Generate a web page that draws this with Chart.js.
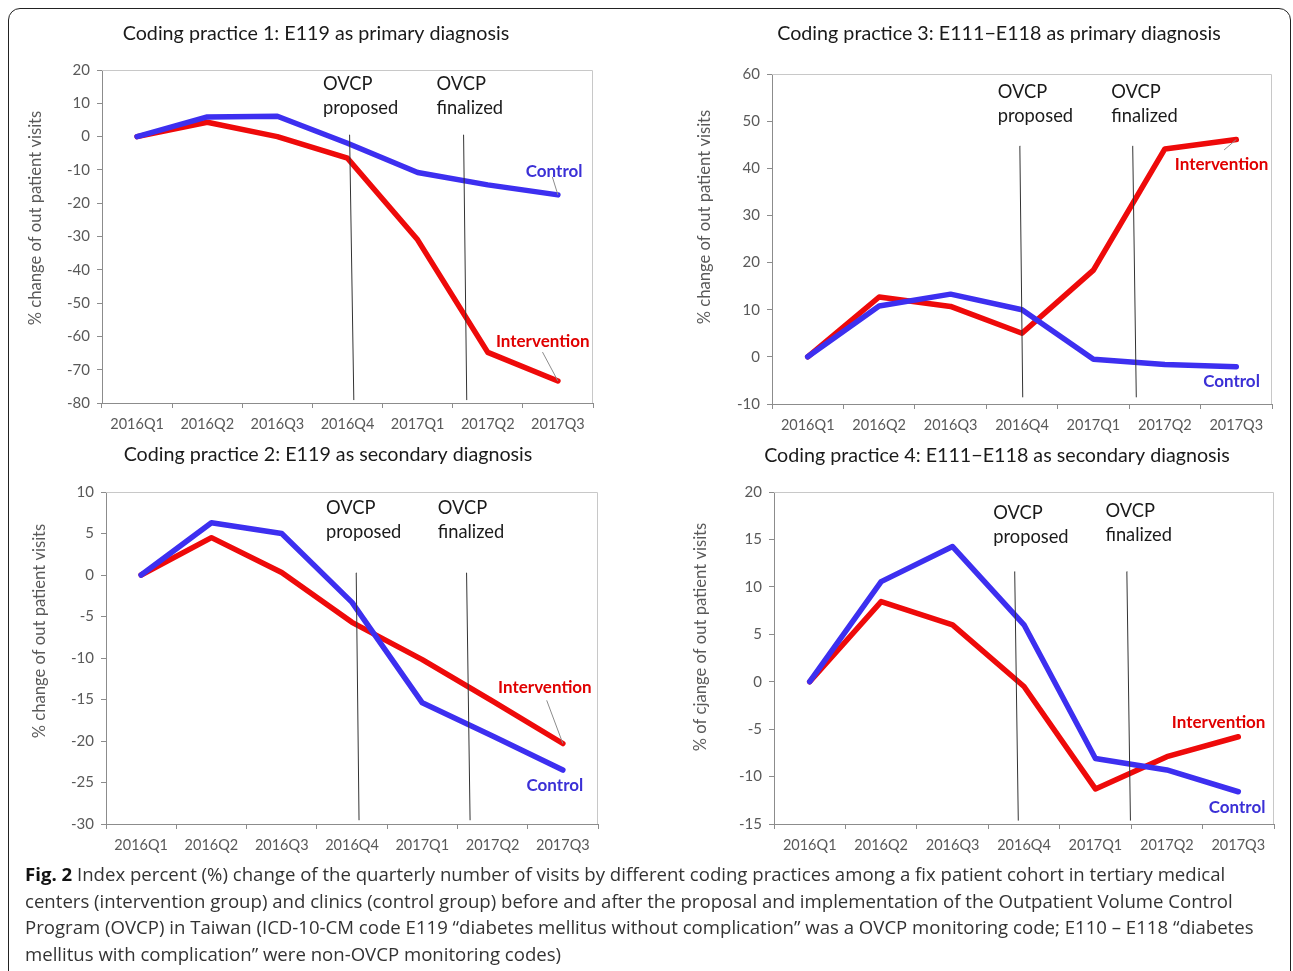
<!DOCTYPE html>
<html>
<head>
<meta charset="utf-8">
<script src="https://cdn.jsdelivr.net/npm/chart.js@4.4.1/dist/chart.umd.min.js"></script>
<style>
html, body { margin: 0; padding: 0; background: #fff; overflow: hidden; }
#fig { position: relative; width: 1293px; height: 971px; }
#frame { position: absolute; left: 8px; top: 8px; width: 1281px; height: 1000px; border: 1.6px solid #222; border-radius: 12px 12px 0 0; }
canvas.c { position: absolute; left: 0; top: 0; }
#cap { position: absolute; left: 25px; top: 861px; font-family: 'Open Sans', sans-serif; font-size: 18.6px; line-height: 26.7px; color: #333; white-space: nowrap; }
#cap b { color: #111; }
</style>
</head>
<body>
<div id="fig">
  <div id="frame"></div>
  <canvas class="c" id="cp1" width="1293" height="860"></canvas>
  <canvas class="c" id="cp2" width="1293" height="860"></canvas>
  <canvas class="c" id="cp3" width="1293" height="860"></canvas>
  <canvas class="c" id="cp4" width="1293" height="860"></canvas>
  <div id="cap">
    <b>Fig. 2</b> Index percent (%) change of the quarterly number of visits by different coding practices among a fix patient cohort in tertiary medical<br>
    centers (intervention group) and clinics (control group) before and after the proposal and implementation of the Outpatient Volume Control<br>
    Program (OVCP) in Taiwan (ICD-10-CM code E119 “diabetes mellitus without complication” was a OVCP monitoring code; E110 – E118 “diabetes<br>
    mellitus with complication” were non-OVCP monitoring codes)
  </div>
</div>
<script>
// quarters on the x axis
const quarters = ['2016Q1', '2016Q2', '2016Q3', '2016Q4', '2017Q1', '2017Q2', '2017Q3'];

// coding practice 1: E119 as primary diagnosis
const cp1Intervention = [0, 4.3, 0, -6.5, -31, -64.8, -73.4];
const cp1Control = [0, 5.9, 6.1, -2, -10.8, -14.5, -17.5];
// coding practice 2: E119 as secondary diagnosis
const cp2Intervention = [0, 4.5, 0.3, -5.7, -10.2, -15.2, -20.3];
const cp2Control = [0, 6.3, 5.0, -3.3, -15.4, -19.4, -23.5];
// coding practice 3: E111-E118 as primary diagnosis
const cp3Intervention = [0, 12.7, 10.7, 5.0, 18.4, 44.1, 46.1];
const cp3Control = [0, 10.8, 13.3, 10.0, -0.5, -1.6, -2.1];
// coding practice 4: E111-E118 as secondary diagnosis
const cp4Intervention = [0, 8.45, 6.0, -0.5, -11.3, -7.9, -5.8];
const cp4Control = [0, 10.55, 14.25, 6.0, -8.1, -9.3, -11.6];

// OVCP marker lines (x in quarter index, y in %)
const cp1Proposed = [{x: 3.03, y: 0.5}, {x: 3.09, y: -79}];
const cp1Finalized = [{x: 4.655, y: 0.5}, {x: 4.7, y: -79}];
const cp2Proposed = [{x: 3.06, y: 0.25}, {x: 3.1, y: -29.5}];
const cp2Finalized = [{x: 4.63, y: 0.25}, {x: 4.68, y: -29.5}];
const cp3Proposed = [{x: 2.97, y: 44.7}, {x: 3.01, y: -8.5}];
const cp3Finalized = [{x: 4.55, y: 44.7}, {x: 4.6, y: -8.5}];
const cp4Proposed = [{x: 2.87, y: 11.6}, {x: 2.92, y: -14.6}];
const cp4Finalized = [{x: 4.44, y: 11.6}, {x: 4.49, y: -14.6}];

const RED = '#ee0a0a';
const BLUE = '#3d2ff0';
const AXIS = '#8c8c8c';
const TICK = '#595959';
const W = 1293, H = 860, YW = 40, XH = 34;

Chart.defaults.font.family = 'Lato, "Open Sans", sans-serif';
Chart.defaults.elements.point.radius = 0;
Chart.defaults.elements.point.hoverRadius = 0;

function textPlugin(cfg) {
  return {
    id: 'figText',
    afterDatasetsDraw(chart) {
      const ctx = chart.ctx, xs = chart.scales.x2, ys = chart.scales.y, a = chart.chartArea;
      ctx.save();
      // light frame on top and right of the plot
      ctx.strokeStyle = '#c8c8c8';
      ctx.lineWidth = 1;
      ctx.beginPath();
      ctx.moveTo(a.left, a.top + 0.5);
      ctx.lineTo(a.right - 0.5, a.top + 0.5);
      ctx.lineTo(a.right - 0.5, a.bottom);
      ctx.stroke();
      // chart title
      ctx.fillStyle = '#1a1a1a';
      ctx.font = '19.7px Lato, sans-serif';
      ctx.textAlign = 'center';
      ctx.textBaseline = 'middle';
      ctx.fillText(cfg.title, cfg.titlePos[0], cfg.titlePos[1]);
      // y axis title
      ctx.save();
      ctx.translate(cfg.yTitlePos[0], cfg.yTitlePos[1]);
      ctx.rotate(-Math.PI / 2);
      ctx.fillStyle = TICK;
      ctx.font = '16.6px Lato, sans-serif';
      ctx.fillText(cfg.yTitle, 0, 0);
      ctx.restore();
      // OVCP notes
      ctx.fillStyle = '#1a1a1a';
      ctx.font = '18.3px Lato, sans-serif';
      ctx.textAlign = 'left';
      cfg.notes.forEach(n => {
        const px = xs.getPixelForValue(n.x), py = ys.getPixelForValue(n.y);
        ctx.fillText('OVCP', px, py);
        ctx.fillText(n.text, px, py + 24);
      });
      // leader lines
      ctx.strokeStyle = '#8c8c8c';
      ctx.lineWidth = 1;
      cfg.leaders.forEach(l => {
        ctx.beginPath();
        ctx.moveTo(xs.getPixelForValue(l[0]), ys.getPixelForValue(l[1]));
        ctx.lineTo(xs.getPixelForValue(l[2]), ys.getPixelForValue(l[3]));
        ctx.stroke();
      });
      // series names
      ctx.font = 'bold 17px Lato, sans-serif';
      ctx.textAlign = 'right';
      cfg.names.forEach(n => {
        ctx.fillStyle = n.color;
        ctx.fillText(n.text, xs.getPixelForValue(n.x), ys.getPixelForValue(n.y));
      });
      ctx.restore();
    }
  };
}

function makeChart(id, cfg) {
  const ctx = document.getElementById(id).getContext('2d');
  new Chart(ctx, {
    type: 'line',
    data: {
      labels: quarters,
      datasets: [
        { label: 'Control', data: cfg.control, borderColor: BLUE, borderWidth: 5.5, order: 1 },
        { label: 'Intervention', data: cfg.intervention, borderColor: RED, borderWidth: 5.5, order: 2 },
        { label: 'OVCP proposed', data: cfg.proposed, xAxisID: 'x2', borderColor: '#333', borderWidth: 1, order: 0 },
        { label: 'OVCP finalized', data: cfg.finalized, xAxisID: 'x2', borderColor: '#333', borderWidth: 1, order: 0 }
      ]
    },
    options: {
      responsive: false,
      animation: false,
      layout: { padding: { left: cfg.area[0] - YW, top: cfg.area[1], right: W - cfg.area[2], bottom: H - cfg.area[3] - XH } },
      elements: { line: { tension: 0, borderCapStyle: 'round', borderJoinStyle: 'round' } },
      plugins: { legend: { display: false }, tooltip: { enabled: false } },
      scales: {
        x: {
          offset: true,
          grid: { offset: true, drawOnChartArea: false, tickLength: 5, color: AXIS },
          border: { color: AXIS },
          ticks: { color: TICK, font: { size: 14.5 }, padding: 8, maxRotation: 0, autoSkip: false },
          afterFit: s => { s.height = XH; }
        },
        x2: { type: 'linear', display: false, min: -0.5, max: 6.5 },
        y: {
          min: cfg.yRange[0], max: cfg.yRange[1],
          grid: { drawOnChartArea: false, tickLength: 5, color: AXIS },
          border: { color: AXIS },
          ticks: { stepSize: cfg.yRange[2], color: TICK, font: { size: 15 }, padding: 7 },
          afterFit: s => { s.width = YW; }
        }
      }
    },
    plugins: [textPlugin(cfg)]
  });
}

makeChart('cp1', {
  intervention: cp1Intervention, control: cp1Control,
  proposed: cp1Proposed, finalized: cp1Finalized,
  area: [102, 70, 593, 403], yRange: [-80, 20, 10],
  title: 'Coding practice 1: E119 as primary diagnosis', titlePos: [316, 34],
  yTitle: '% change of out patient visits', yTitlePos: [36, 218],
  notes: [{ x: 2.65, y: 15.8, text: 'proposed' }, { x: 4.27, y: 15.8, text: 'finalized' }],
  names: [{ text: 'Control', x: 6.35, y: -10.6, color: '#3b30d6' }, { text: 'Intervention', x: 6.45, y: -61.4, color: '#e00000' }],
  leaders: [[5.92, -12.1, 6, -17.5], [5.78, -64.7, 6, -73.4]]
});

makeChart('cp2', {
  intervention: cp2Intervention, control: cp2Control,
  proposed: cp2Proposed, finalized: cp2Finalized,
  area: [106, 492, 598, 824], yRange: [-30, 10, 5],
  title: 'Coding practice 2: E119 as secondary diagnosis', titlePos: [328, 455],
  yTitle: '% change of out patient visits', yTitlePos: [40, 631],
  notes: [{ x: 2.63, y: 8.07, text: 'proposed' }, { x: 4.22, y: 8.07, text: 'finalized' }],
  names: [{ text: 'Intervention', x: 6.41, y: -13.5, color: '#e00000' }, { text: 'Control', x: 6.29, y: -25.4, color: '#3b30d6' }],
  leaders: [[5.77, -15.1, 6, -20.3]]
});

makeChart('cp3', {
  intervention: cp3Intervention, control: cp3Control,
  proposed: cp3Proposed, finalized: cp3Finalized,
  area: [772, 74, 1272, 404], yRange: [-10, 60, 10],
  title: 'Coding practice 3: E111\u2212E118 as primary diagnosis', titlePos: [999, 34],
  yTitle: '% change of out patient visits', yTitlePos: [705, 217],
  notes: [{ x: 2.66, y: 56.2, text: 'proposed' }, { x: 4.25, y: 56.2, text: 'finalized' }],
  names: [{ text: 'Intervention', x: 6.45, y: 40.7, color: '#e00000' }, { text: 'Control', x: 6.33, y: -5.3, color: '#3b30d6' }],
  leaders: [[5.83, 43.9, 6, 46.1]]
});

makeChart('cp4', {
  intervention: cp4Intervention, control: cp4Control,
  proposed: cp4Proposed, finalized: cp4Finalized,
  area: [774, 492, 1274, 824], yRange: [-15, 20, 5],
  title: 'Coding practice 4: E111\u2212E118 as secondary diagnosis', titlePos: [997, 456],
  yTitle: '% of cjange of out patient visits', yTitlePos: [701, 637],
  notes: [{ x: 2.57, y: 17.8, text: 'proposed' }, { x: 4.14, y: 18.0, text: 'finalized' }],
  names: [{ text: 'Intervention', x: 6.38, y: -4.35, color: '#e00000' }, { text: 'Control', x: 6.38, y: -13.3, color: '#3b30d6' }],
  leaders: []
});
</script>
</body>
</html>
